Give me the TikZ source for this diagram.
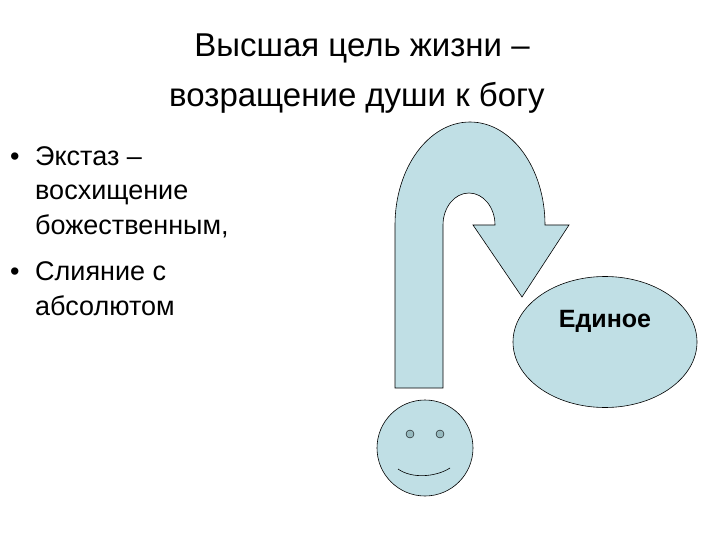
\documentclass[tikz,border=0pt]{standalone}
\usepackage{fontspec}
\setmainfont{Liberation Sans}
\usetikzlibrary{shapes.geometric}
\begin{document}
\begin{tikzpicture}[x=1pt,y=-1pt,
  shp/.style={draw=black,line width=0.6pt,fill=lblue},
  txt/.style={anchor=base west,font=\fontsize{27}{32}\selectfont,inner sep=0}]
\definecolor{lblue}{RGB}{192,223,229}
\definecolor{eyec}{RGB}{150,185,190}
\useasboundingbox (0,0) rectangle (720,540);
\node[font=\fontsize{33}{50}\selectfont,anchor=base,inner sep=0] (title1) at (362,57) {Высшая цель жизни --};
\node[font=\fontsize{33}{50}\selectfont,anchor=base,inner sep=0] (title2) at (357,107) {возращение души к богу};
\node[txt] (b1) at (10,166) {•};
\node[txt] (t1) at (35,166) {Экстаз --};
\node[txt] (t2) at (35,200) {восхищение};
\node[txt] (t3) at (35,235) {божественным,};
\node[txt] (b2) at (10,280) {•};
\node[txt] (t4) at (35,280) {Слияние с};
\node[txt] (t5) at (35,315) {абсолютом};
% arrow
\draw[shp] (395,388) -- (395,225) arc[start angle=180,end angle=360,x radius=75,y radius=103]
  -- (569,225) -- (522,297) -- (473,225) -- (495,225)
  arc[start angle=0,end angle=-180,x radius=26,y radius=32] -- (443,388) -- cycle;
\node[shp,ellipse,minimum width=184,minimum height=131,inner sep=0] (one) at (605,342) {};
\node[font=\bfseries\fontsize{25}{30}\selectfont] (lbl) at (605,321) {Единое};
\node[shp,circle,minimum size=96,inner sep=0] (face) at (425,448) {};
\node[draw,fill=eyec,circle,minimum size=8,inner sep=0] (e1) at (410,434) {};
\node[draw,fill=eyec,circle,minimum size=8,inner sep=0] (e2) at (440,434) {};
\draw[line width=0.6pt] (398,469) .. controls (412,479) and (436,477) .. (450,468);
\end{tikzpicture}
\end{document}
